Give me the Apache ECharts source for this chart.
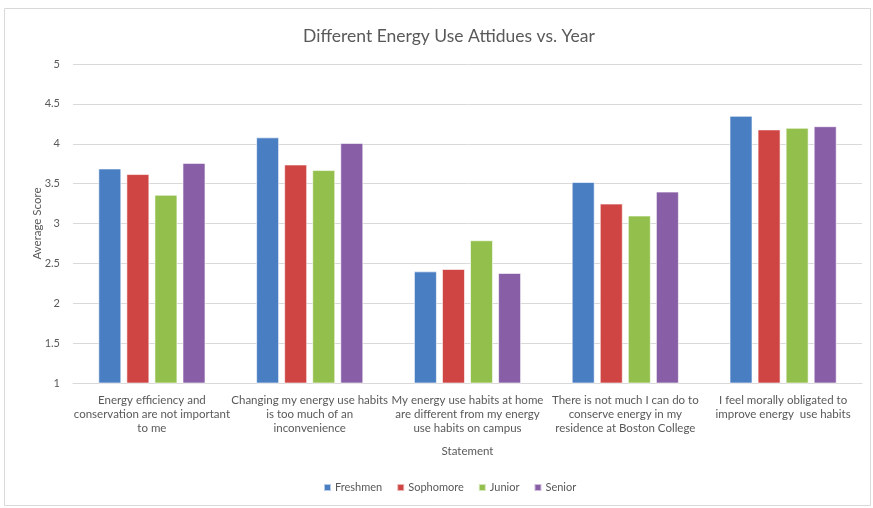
<!DOCTYPE html>
<html>
<head>
<meta charset="utf-8">
<script src="https://cdn.jsdelivr.net/npm/echarts@6/dist/echarts.min.js"></script>
<style>
  html, body { margin: 0; padding: 0; background: #fff; }
  #chart { width: 873px; height: 508px; }
</style>
</head>
<body>
<div id="chart"></div>
<script>
// Survey statements (x-axis categories)
const statements = [
  'Energy efficiency and\nconservation are not important\nto me',
  'Changing my energy use habits\nis too much of an\ninconvenience',
  'My energy use habits at home\nare different from my energy\nuse habits on campus',
  'There is not much I can do to\nconserve energy in my\nresidence at Boston College',
  'I feel morally obligated to\nimprove energy  use habits'
];

// Average score per class year
const freshmen  = [3.69, 4.08, 2.40, 3.52, 4.35];
const sophomore = [3.62, 3.74, 2.43, 3.25, 4.18];
const junior    = [3.36, 3.67, 2.79, 3.10, 4.20];
const senior    = [3.76, 4.01, 2.38, 3.40, 4.22];

const seriesNames = ['Freshmen', 'Sophomore', 'Junior', 'Senior'];
const seriesData = [freshmen, sophomore, junior, senior];
const colors = ['#4a7ec3', '#cf4543', '#93c04c', '#885ea6'];

const font = 'Lato, "Open Sans", sans-serif';
const textColor = '#595959';

const chart = echarts.init(document.getElementById('chart'));
chart.setOption({
  animation: false,
  textStyle: { fontFamily: font },
  title: {
    text: 'Different Energy Use Attidues vs. Year',
    left: 444,
    textAlign: 'center',
    top: 22,
    textStyle: { fontFamily: font, fontSize: 17.5, fontWeight: 'normal', color: textColor }
  },
  legend: {
    data: seriesNames,
    bottom: 10,
    left: 318,
    itemWidth: 7,
    itemHeight: 7,
    itemGap: 14,
    icon: 'rect',
    textStyle: { fontFamily: font, fontSize: 11, color: textColor, padding: [0, 0, 0, -1] }
  },
  grid: { left: 73, right: 11, top: 64, bottom: 125, containLabel: false },
  xAxis: {
    type: 'category',
    data: statements,
    name: 'Statement',
    nameLocation: 'middle',
    nameGap: 62,
    nameMoveOverlap: false,
    nameTextStyle: { fontFamily: font, fontSize: 11.5, color: textColor },
    axisLine: { show: true, lineStyle: { color: '#d9d9d9', width: 1 } },
    axisTick: { show: false },
    axisLabel: {
      interval: 0,
      margin: 10,
      fontFamily: font,
      fontSize: 11.5,
      lineHeight: 14,
      color: textColor,
      align: 'center'
    }
  },
  yAxis: {
    type: 'value',
    min: 1,
    max: 5,
    interval: 0.5,
    name: 'Average Score',
    nameLocation: 'middle',
    nameGap: 30,
    nameMoveOverlap: false,
    nameRotate: 90,
    nameTextStyle: { fontFamily: font, fontSize: 11.5, color: textColor },
    axisLine: { show: false },
    axisTick: { show: false },
    axisLabel: { fontFamily: font, fontSize: 11, color: textColor, margin: 13 },
    splitLine: { lineStyle: { color: '#d9d9d9', width: 1 } }
  },
  series: seriesData.map((d, i) => ({
    name: seriesNames[i],
    type: 'bar',
    data: d,
    barWidth: 23,
    barGap: '22%',
    barCategoryGap: '32%',
    itemStyle: { color: colors[i], borderColor: 'rgba(255,255,255,0.6)', borderWidth: 1 }
  })),
  graphic: [{
    type: 'rect',
    shape: { x: 4.5, y: 8.5, width: 866, height: 497 },
    style: { fill: 'none', stroke: '#d9d9d9', lineWidth: 1 },
    silent: true
  }]
});
</script>
</body>
</html>
